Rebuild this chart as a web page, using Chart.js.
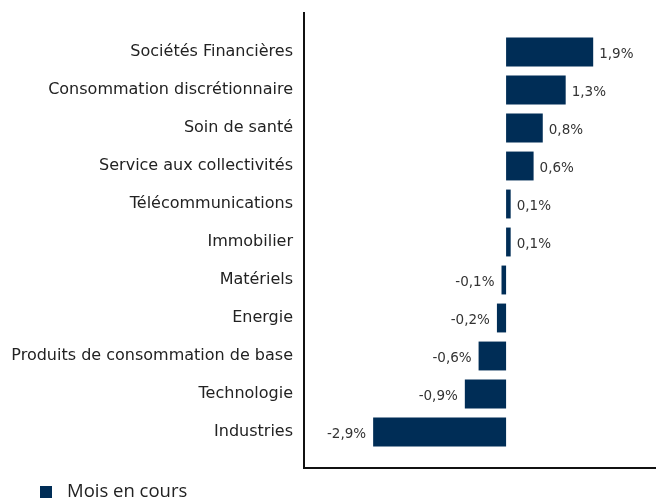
<!DOCTYPE html>
<html>
<head>
<meta charset="utf-8">
<script src="https://cdn.jsdelivr.net/npm/chart.js@4"></script>
<style>
  html, body { margin: 0; padding: 0; background: #fff; }
  #wrap { width: 656px; height: 502px; position: relative; }
</style>
</head>
<body>
<div id="wrap"><canvas id="chart"></canvas></div>
<script>
const categories = [
    "Sociétés Financières",
    "Consommation discrétionnaire",
    "Soin de santé",
    "Service aux collectivités",
    "Télécommunications",
    "Immobilier",
    "Matériels",
    "Energie",
    "Produits de consommation de base",
    "Technologie",
    "Industries"
];
const monthValues = [1.9, 1.3, 0.8, 0.6, 0.1, 0.1, -0.1, -0.2, -0.6, -0.9, -2.9];
const seriesName = "Mois en cours";

const barColor = '#002d56';
const fontFamily = "'Open Sans', 'Noto Sans', sans-serif";
const labelFamily = "'DejaVu Sans', sans-serif";

function fmt(v) {
    return v.toFixed(1).replace('.', ',') + '%';
}

// value labels next to each bar
const valueLabels = {
    id: 'valueLabels',
    afterDatasetsDraw(chart) {
        const ctx = chart.ctx;
        const meta = chart.getDatasetMeta(0);
        ctx.save();
        ctx.font = '13.5px ' + labelFamily;
        ctx.fillStyle = '#333';
        ctx.textBaseline = 'middle';
        meta.data.forEach((bar, i) => {
            const v = monthValues[i];
            if (v >= 0) {
                ctx.textAlign = 'left';
                ctx.fillText(fmt(v), bar.x + 6, bar.y + 2);
            } else {
                ctx.textAlign = 'right';
                ctx.fillText(fmt(v), bar.x - 7, bar.y + 2);
            }
        });
        ctx.restore();
    }
};

// axis lines and legend
const frame = {
    id: 'frame',
    afterDraw(chart) {
        const ctx = chart.ctx;
        const area = chart.chartArea;
        ctx.save();
        ctx.strokeStyle = '#111';
        ctx.lineWidth = 2;
        ctx.beginPath();
        ctx.moveTo(area.left + 1, 12);
        ctx.lineTo(area.left + 1, 468);
        ctx.lineTo(chart.width, 468);
        ctx.stroke();

        ctx.fillStyle = barColor;
        ctx.fillRect(40, 486, 12, 12);
        ctx.fillStyle = '#222';
        ctx.font = '18.5px ' + fontFamily;
        ctx.textAlign = 'left';
        ctx.textBaseline = 'middle';
        ctx.fillText(seriesName, 67, 492);
        ctx.restore();
    }
};

new Chart(document.getElementById('chart'), {
    type: 'bar',
    data: {
        labels: categories,
        datasets: [{
            label: seriesName,
            data: monthValues,
            backgroundColor: barColor,
            barPercentage: 0.76,
            categoryPercentage: 1
        }]
    },
    options: {
        indexAxis: 'y',
        responsive: true,
        maintainAspectRatio: false,
        animation: false,
        layout: { padding: { top: 33, bottom: 51, left: 0, right: 0 } },
        scales: {
            x: {
                display: false,
                min: -4.43,
                max: 3.27
            },
            y: {
                grid: { display: false },
                border: { display: false },
                ticks: {
                    color: '#222',
                    padding: 2,
                    font: { family: labelFamily, size: 16 }
                },
                afterFit(scale) { scale.width = 303; }
            }
        },
        plugins: {
            legend: { display: false },
            tooltip: { enabled: false }
        }
    },
    plugins: [valueLabels, frame]
});
</script>
</body>
</html>
